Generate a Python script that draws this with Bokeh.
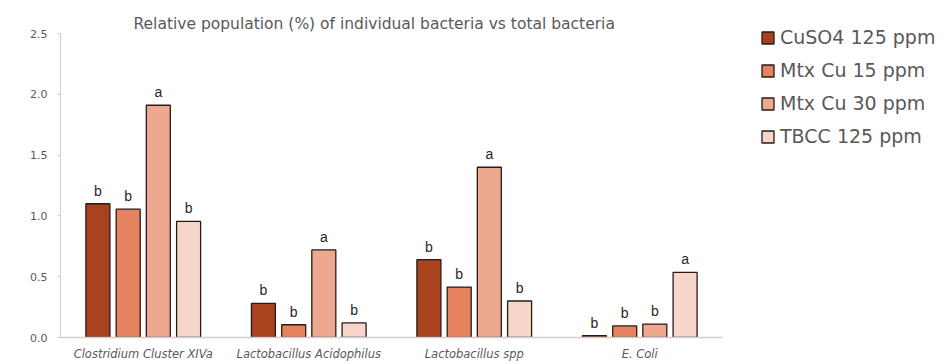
from bokeh.plotting import figure
from bokeh.models import ColumnDataSource, FactorRange, Legend, LegendItem, Title
from bokeh.transform import dodge
from bokeh.core.properties import value
from bokeh.embed import file_html
from bokeh.resources import INLINE

categories = ["Clostridium Cluster XIVa", "Lactobacillus Acidophilus", "Lactobacillus spp", "E. Coli"]
series_names = ["CuSO4 125 ppm", "Mtx Cu 15 ppm", "Mtx Cu 30 ppm", "TBCC 125 ppm"]
cuso4 = [1.10, 0.28, 0.64, 0.015]
mtx15 = [1.055, 0.105, 0.415, 0.095]
mtx30 = [1.91, 0.72, 1.40, 0.11]
tbcc = [0.955, 0.12, 0.30, 0.535]
let_cuso4 = ["b", "b", "b", "b"]
let_mtx15 = ["b", "b", "b", "b"]
let_mtx30 = ["a", "a", "a", "b"]
let_tbcc = ["b", "b", "b", "a"]
y_ticks = [0.0, 0.5, 1.0, 1.5, 2.0, 2.5]

colors = ["#A8421F", "#E5825F", "#EDA890", "#F6D6CA"]
series = [cuso4, mtx15, mtx30, tbcc]
letters = [let_cuso4, let_mtx15, let_mtx30, let_tbcc]
offsets = [-0.274, -0.091, 0.091, 0.274]

p = figure(x_range=FactorRange(*categories, range_padding=0), y_range=(0, 2.5),
           frame_width=662, frame_height=304, min_border_left=60, min_border_top=33,
           min_border_right=0, min_border_bottom=0,
           output_backend="svg", toolbar_location=None)
p.outline_line_color = None
p.xgrid.grid_line_color = None
p.ygrid.grid_line_color = None
p.background_fill_color = "white"

font = "DejaVu Sans"
items = []
for name, vals, lets, col, off in zip(series_names, series, letters, colors, offsets):
    src = ColumnDataSource(dict(cat=categories, val=vals, lab=lets))
    r = p.vbar(x=dodge("cat", off, range=p.x_range), top="val", width=0.145, source=src,
               fill_color=col, line_color="#2A1A14", line_width=1.3)
    p.text(x=dodge("cat", off, range=p.x_range), y="val", text="lab", source=src,
           text_align="center", text_baseline="bottom", y_offset=-5,
           text_font=value("Liberation Sans"), text_font_size="14px", text_color="#262626")
    items.append(LegendItem(label=name, renderers=[r]))

legend = Legend(items=items, location=(38, 190), border_line_alpha=0,
                background_fill_alpha=0, label_text_font=font, label_text_font_size="19px",
                label_text_color="#595959", glyph_width=15, glyph_height=15,
                label_height=22, spacing=11, padding=0, margin=0, label_standoff=5)
p.add_layout(legend, "right")

p.title = Title(text="Relative population (%) of individual bacteria vs total bacteria",
                align="left", text_font=font, text_font_size="15.5px",
                text_color="#595959", text_font_style="normal", offset=73, standoff=1)

p.yaxis.ticker = y_ticks
p.yaxis.major_label_overrides = {t: f"{t:.1f}" for t in y_ticks}
p.yaxis.axis_line_color = "#D0D0D0"
p.yaxis.major_tick_line_color = "#D0D0D0"
p.yaxis.major_tick_in = 0
p.yaxis.major_tick_out = 3
p.yaxis.minor_tick_line_color = None
p.yaxis.major_label_text_font = font
p.yaxis.major_label_text_font_size = "11px"
p.yaxis.major_label_text_color = "#595959"
p.yaxis.major_label_standoff = 10

p.xaxis.axis_line_color = "#D0D0D0"
p.xaxis.axis_line_width = 1.5
p.xaxis.major_tick_line_color = None
p.xaxis.minor_tick_line_color = None
p.xaxis.major_label_text_font = font
p.xaxis.major_label_text_font_style = "italic"
p.xaxis.major_label_text_font_size = "11.5px"
p.xaxis.major_label_text_color = "#595959"
p.xaxis.major_label_standoff = 3

open("out.html", "w").write(file_html(p, INLINE))
